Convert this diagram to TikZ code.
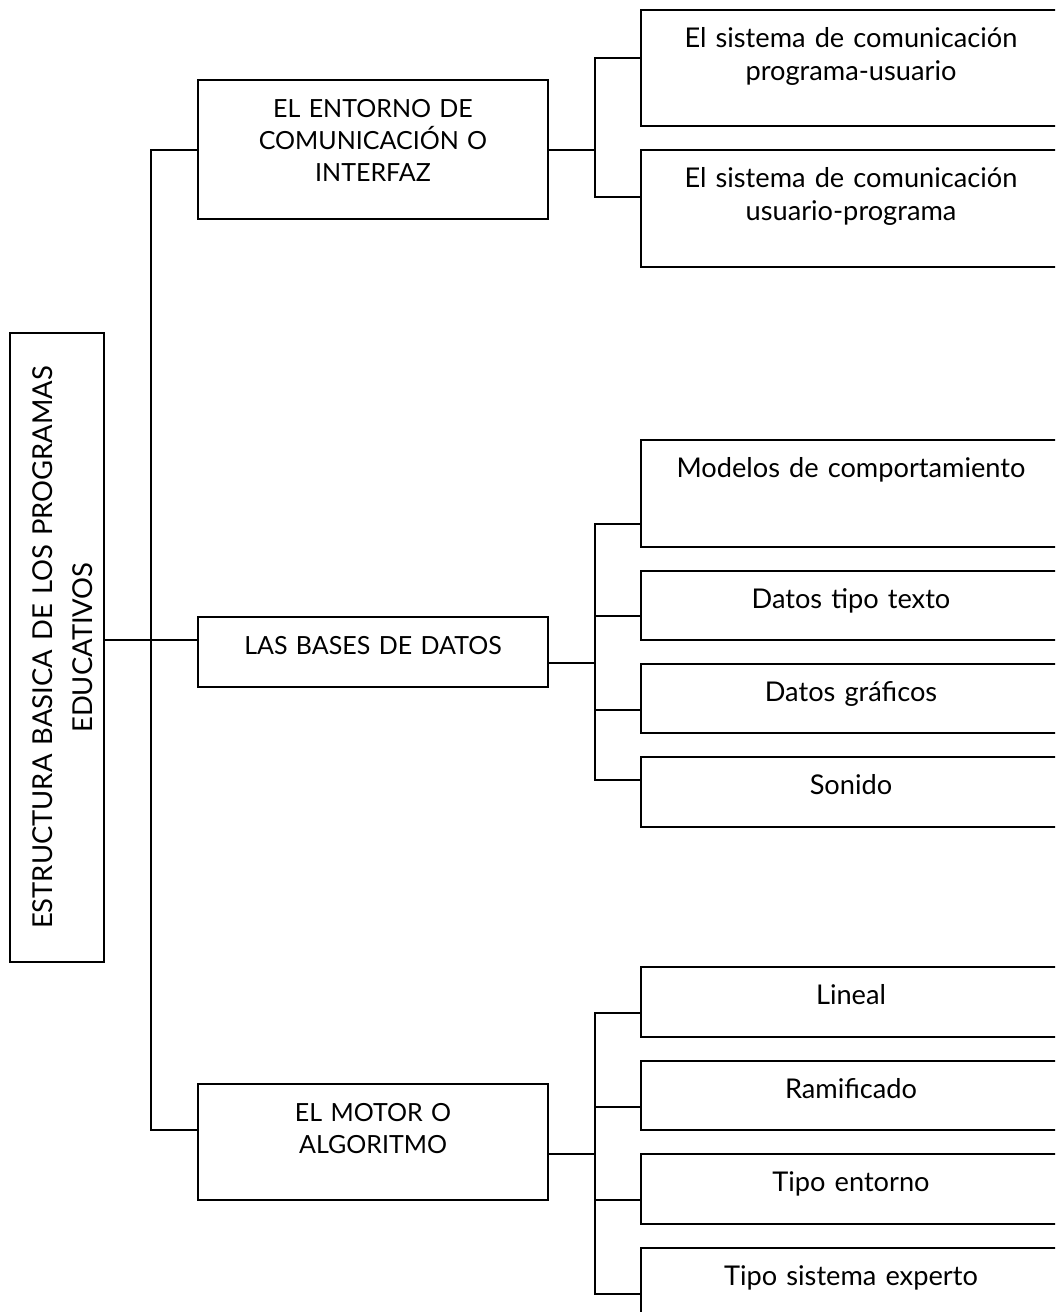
\documentclass[tikz,border=0pt]{standalone}
\usepackage{fontspec}
\setmainfont{Lato}
\usetikzlibrary{positioning}
\tikzstyle{box}=[rectangle, draw=black, line width=1pt, inner sep=0pt, align=center, text height=18.5pt, anchor=north west, font=\fontsize{12.5}{16}\selectfont]
\tikzstyle{topic}=[box, text width=175pt]
\tikzstyle{leaf}=[box, text width=210pt, font=\fontsize{13.6}{16.5}\selectfont]
\tikzstyle{link}=[line width=1pt]

\begin{document}
\begin{tikzpicture}[x=0.5pt, y=-0.5pt]
    %page frame, the leaves run past the right edge
    \useasboundingbox (0,0) rectangle (1055,1312);
    \clip (0,0) rectangle (1055,1312);
    \node[rectangle, draw=black, line width=0.6pt, inner sep=0pt, rotate=90, align=center, text width=314.5pt, text height=21.5pt, text depth=25.5pt, font=\fontsize{13.7}{20}\selectfont] (root) at (57,647.5) {ESTRUCTURA BASICA DE LOS PROGRAMAS\\ EDUCATIVOS};
    \node[topic, text depth=51pt] (b1) at (197,79) {EL ENTORNO DE\\ COMUNICACIÓN O\\ INTERFAZ};
    \node[topic, text depth=16.5pt] (b2) at (197,616) {LAS BASES DE DATOS};
    \node[topic, text depth=39.5pt] (b3) at (197,1083) {EL MOTOR O\\ ALGORITMO};
    \node[leaf, text depth=39.5pt] (c1) at (640,9) {El sistema de comunicación\\ programa-usuario};
    \node[leaf, text depth=40pt, below=11pt of c1] (c2) {El sistema de comunicación\\ usuario-programa};
    \node[leaf, text depth=35pt] (m1) at (640,439) {Modelos de comportamiento};
    \node[leaf, text depth=16pt, below=11pt of m1] (m2) {Datos tipo texto};
    \node[leaf, text depth=16pt, below=11pt of m2] (m3) {Datos gráficos};
    \node[leaf, text depth=16.5pt, below=11pt of m3] (m4) {Sonido};
    \node[leaf, text depth=16.5pt] (a1) at (640,966) {Lineal};
    \node[leaf, text depth=16pt, below=11pt of a1] (a2) {Ramificado};
    \node[leaf, text depth=16.5pt, below=11pt of a2] (a3) {Tipo entorno};
    \node[leaf, text depth=16.5pt, below=11pt of a3] (a4) {Tipo sistema experto};
    %root to the middle topic, trunk to the others
    \coordinate (b2in) at ([yshift=6pt]b2.west);
    \draw[line width=0.6pt] (root.south |- b2in) -- (b2in);
    \draw[link] (b1.west) -- ++(-46,0) |- ([yshift=6pt]b3.west);
    %buses on the right
    \draw[link] (b1.east) -- ++(46,0) coordinate (bus1);
    \foreach \leafnode/\dy in {c1/5pt, c2/5.75pt}
        \draw[link] (bus1) |- ([yshift=\dy]\leafnode.west);
    \draw[link] ([yshift=-5.5pt]b2.east) -- ++(46,0) coordinate (bus2);
    \foreach \leafnode/\dy in {m1/-15pt, m2/-5.25pt, m3/-5.75pt, m4/6pt}
        \draw[link] (bus2) |- ([yshift=\dy]\leafnode.west);
    \draw[link] ([yshift=-6pt]b3.east) -- ++(46,0) coordinate (bus3);
    \foreach \leafnode/\dy in {a1/-5.5pt, a2/-5.75pt, a3/-5.5pt, a4/-5.5pt}
        \draw[link] (bus3) |- ([yshift=\dy]\leafnode.west);
\end{tikzpicture}
\end{document}
